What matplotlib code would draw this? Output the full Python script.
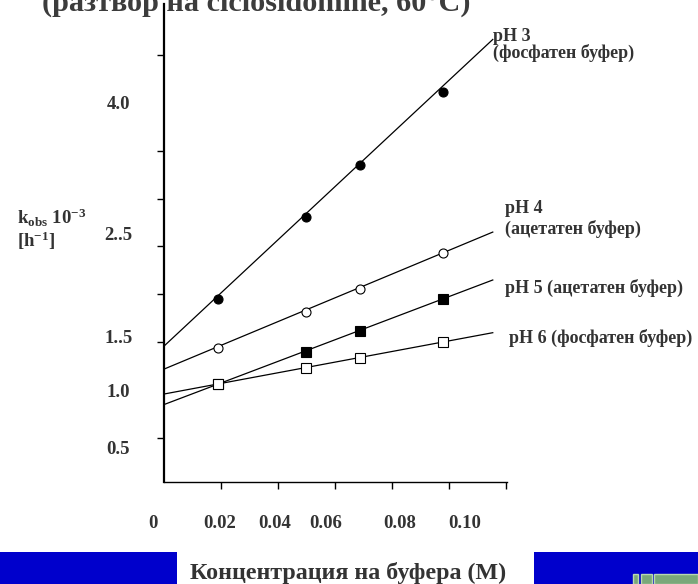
import matplotlib
matplotlib.use("Agg")
import matplotlib.pyplot as plt
from matplotlib.patches import Rectangle

plt.rcParams['font.family'] = ['Liberation Serif', 'DejaVu Serif']
plt.rcParams['font.weight'] = 'bold'
plt.rcParams['mathtext.fontset'] = 'custom'
plt.rcParams['mathtext.rm'] = 'Liberation Serif:bold'
plt.rcParams['mathtext.it'] = 'Liberation Serif:bold'
plt.rcParams['mathtext.bf'] = 'Liberation Serif:bold'

################################################################
# data
conc = [0.019, 0.050, 0.069, 0.098]

ph3 = [1.95, 2.81, 3.35, 4.11]
ph4 = [1.44, 1.82, 2.06, 2.43]
ph5 = [1.06, 1.40, 1.62, 1.95]
ph6 = [1.06, 1.23, 1.34, 1.50]

# fitted straight lines: value at x=0 and at the right end
line_x = [0.0, 0.1155]
ph3_line = [1.46, 4.66]
ph4_line = [1.22, 2.65]
ph5_line = [0.85, 2.15]
ph6_line = [0.96, 1.60]

series_labels = ['pH 3\n(фосфатен буфер)', 'pH 4\n(ацетатен буфер)',
                 'pH 5 (ацетатен буфер)', 'pH 6 (фосфатен буфер)']

x_tick_labels = ['0', '0.02', '0.04', '0.06', '0.08', '0.10']
x_tick_label_pos = [-0.0039, 0.0196, 0.039, 0.0568, 0.0828, 0.1056]
x_tick_marks = [0.02, 0.04, 0.06, 0.08, 0.10, 0.12]

y_tick_labels = ['4.0', '2..5', '1..5', '1.0', '0.5']
y_tick_label_pos = [4.0, 2.64, 1.56, 1.0, 0.4]
y_tick_marks = [0.5, 1.0, 1.5, 2.0, 2.5, 3.0, 3.5, 4.0, 4.5]

title = '(разтвор на ciclosidomine, 60°C)'
x_title = 'Концентрация на буфера (M)'
################################################################

txt = '#333333'

# axes box starts a little left of x=0 so the stray "0" label fits
xmin, xmax = -0.0045, 0.1205
px_per_unit = (507 - 164) / xmax
left_px = 164 + xmin * px_per_unit

fig = plt.figure(figsize=(6.98, 5.84), dpi=100)
axe = fig.add_axes([left_px / 698, 1 - 482 / 584, (507 - left_px) / 698, (482 - 4) / 584])

axe.plot(line_x, ph3_line, color='black', lw=0.9)
axe.plot(line_x, ph4_line, color='black', lw=0.9)
axe.plot(line_x, ph5_line, color='black', lw=0.9)
axe.plot(line_x, ph6_line, color='black', lw=0.9)

axe.plot(conc, ph3, 'o', ms=6.5, mfc='black', mec='black', mew=0.8)
axe.plot(conc, ph4, 'o', ms=6.5, mfc='white', mec='black', mew=0.8)
axe.plot(conc, ph5, 's', ms=6.5, mfc='black', mec='black', mew=0.8)
axe.plot(conc, ph6, 's', ms=6.5, mfc='white', mec='black', mew=0.8)

for s in ['top', 'right']:
    axe.spines[s].set_visible(False)
axe.spines['left'].set_position(('data', 0))
axe.spines['left'].set_linewidth(1.6)
axe.spines['bottom'].set_linewidth(1.0)
axe.spines['bottom'].set_bounds(0, xmax)

# tick marks (minor) and separately placed labels (major)
axe.set_xticks(x_tick_marks, minor=True)
axe.set_yticks(y_tick_marks, minor=True)
axe.set_xticks(x_tick_label_pos, x_tick_labels)
axe.set_yticks(y_tick_label_pos, y_tick_labels)
axe.tick_params(axis='both', which='major', length=0, labelsize=13.5,
                labelcolor=txt)
axe.tick_params(axis='x', which='major', pad=23.5)
axe.tick_params(axis='y', which='major', pad=33)
for lab in axe.get_yticklabels():
    lab.set_horizontalalignment('center')
axe.tick_params(axis='x', which='minor', length=5, width=1, direction='out')
axe.tick_params(axis='y', which='minor', length=5, width=1, direction='out')

axe.set_xlim(xmin, xmax)
axe.set_ylim(0.042, 5.03)

# series labels at the end of the lines
axe.text(0.1155, 4.60, series_labels[0], fontsize=13, color=txt,
         va='center', ha='left', linespacing=0.95, clip_on=False)
axe.text(0.1198, 2.79, series_labels[1], fontsize=13, color=txt,
         va='center', ha='left', linespacing=1.2, clip_on=False)
axe.text(0.1198, 2.07, series_labels[2], fontsize=13, color=txt,
         va='center', ha='left', clip_on=False)
axe.text(0.1212, 1.545, series_labels[3], fontsize=13, color=txt,
         va='center', ha='left', clip_on=False)

# y label
fig.text(17 / 698, 1 - 218 / 584, r'k$_{\mathrm{obs}}$ 10$^{-3}$', fontsize=13.5,
         color=txt, va='center', ha='left')
fig.text(17 / 698, 1 - 241 / 584, r'[h$^{-1}$]', fontsize=13.5,
         color=txt, va='center', ha='left')

# cut title at top
fig.text(42 / 698, 1 - 11 / 584, title, fontsize=21.8, color='#3c3c3c',
         va='baseline', ha='left')

# bottom band
fig.patches.append(Rectangle((0, 0), 177 / 698, 32 / 584, transform=fig.transFigure,
                             facecolor='#0000cc', edgecolor='none'))
fig.patches.append(Rectangle((534 / 698, 0), 1 - 534 / 698, 32 / 584,
                             transform=fig.transFigure,
                             facecolor='#0000cc', edgecolor='none'))
for x0, w in [(633, 5), (641, 11), (654, 44)]:
    fig.patches.append(Rectangle((x0 / 698, 0), w / 698, 10 / 584,
                                 transform=fig.transFigure,
                                 facecolor='#7aa87a', edgecolor='#b8d8b0', lw=1))
fig.text(190 / 698, 5 / 584, x_title, fontsize=17.3, color=txt,
         va='baseline', ha='left')

fig.savefig('out.png', dpi=100)
